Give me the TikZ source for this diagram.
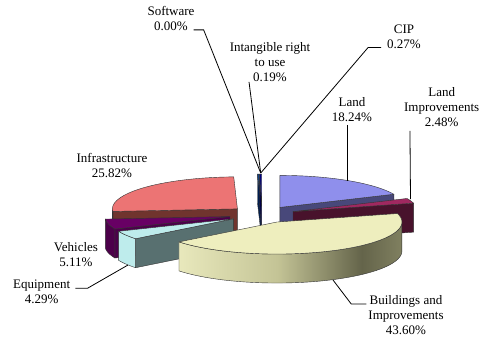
\documentclass[tikz,border=0pt]{standalone}
\usepackage{fontspec}
\setmainfont{Liberation Serif}
\definecolor{landtop}{RGB}{143,143,236}
\definecolor{landside}{RGB}{72,72,122}
\definecolor{imptop}{RGB}{160,40,96}
\definecolor{impside}{RGB}{72,18,44}
\definecolor{infratop}{RGB}{236,116,116}
\definecolor{infraside}{RGB}{112,52,46}
\definecolor{vehtop}{RGB}{104,0,100}
\definecolor{vehside}{RGB}{76,0,74}
\definecolor{eqtop}{RGB}{190,236,236}
\definecolor{eqside}{RGB}{88,112,112}
\definecolor{intgtop}{RGB}{10,70,150}
\definecolor{intgside}{RGB}{0,30,80}
\definecolor{ciptop}{RGB}{0,0,128}
\definecolor{cipside}{RGB}{0,0,70}
\definecolor{bldtop}{RGB}{238,238,190}
\definecolor{bldA}{RGB}{232,232,188}
\definecolor{bldB}{RGB}{196,196,150}
\definecolor{bldC}{RGB}{100,100,74}
\definecolor{bldD}{RGB}{128,128,96}
\pgfdeclarehorizontalshading{bldrim}{100bp}{color(0bp)=(bldA); color(25bp)=(bldA);
  color(47bp)=(bldB); color(66bp)=(bldC); color(75bp)=(bldD); color(100bp)=(bldD)}

\begin{document}
\begin{tikzpicture}[x=1pt,y=-1pt,
    facet/.style={draw=black!80,line width=0.4pt,line join=round},
    leader/.style={black,line width=0.8pt},
    lbl/.style={align=center,inner sep=0pt,font=\rmfamily\fontsize{13}{15}\selectfont}]
  \def\cx{262}    % pie centre (px, y down)
  \def\cy{214.5}
  \def\rx{125}    % ellipse half-axes
  \def\ry{32}
  \def\dep{29}    % slab thickness
  \def\exo{33}    % explosion offset, x and y
  \def\eyo{8.45}

  \path[fill=white,use as bounding box] (0,0) rectangle (484,343);

  % slices, back to front: start/end angle (clockwise from top), colours,
  % start face?, end face?, visible rim range, rim colour
  \foreach \sa/\sb/\ctop/\cside/\fs/\fe/\ra/\rb/\crim in {%
      0/65.7/landtop/landside/0/1/0/0/landside,
      358.3/359.0/intgtop/intgside/1/0/0/0/intgside,
      359.0/360/ciptop/cipside/1/0/0/0/cipside,
      265.4/358.3/infratop/infraside/1/0/265.4/270/infraside,
      65.7/74.6/imptop/impside/0/1/0/0/impside,
      247.0/265.4/vehtop/vehside/1/0/247.0/265.4/vehside,
      231.6/247.0/eqtop/eqside/1/0/231.6/247.0/eqtop}{
    \pgfmathsetmacro\mang{(\sa+\sb)/2}
    \pgfmathsetmacro\ax{\cx+\exo*sin(\mang)}
    \pgfmathsetmacro\ay{\cy-\eyo*cos(\mang)}
    % radial faces
    \ifnum\fs=1
      \path[facet,fill=\cside] (\ax,\ay) -- ({\ax+\rx*sin(\sa)},{\ay-\ry*cos(\sa)})
        -- ++(0,\dep) -- (\ax,{\ay+\dep}) -- cycle;
    \fi
    \ifnum\fe=1
      \path[facet,fill=\cside] (\ax,\ay) -- ({\ax+\rx*sin(\sb)},{\ay-\ry*cos(\sb)})
        -- ++(0,\dep) -- (\ax,{\ay+\dep}) -- cycle;
    \fi
    % outer rim
    \ifdim\ra pt<\rb pt
      \path[facet,fill=\crim] plot[domain=\ra:\rb,samples=30] ({\ax+\rx*sin(\x)},{\ay-\ry*cos(\x)})
        -- plot[domain=\rb:\ra,samples=30] ({\ax+\rx*sin(\x)},{\ay-\ry*cos(\x)+\dep}) -- cycle;
    \fi
    % top
    \path[facet,fill=\ctop] (\ax,\ay)
      -- plot[domain=\sa:\sb,samples=60] ({\ax+\rx*sin(\x)},{\ay-\ry*cos(\x)}) -- cycle;
  }

  % buildings slice (front, shaded rim)
  \pgfmathsetmacro\ax{\cx+\exo*sin(153.1)}
  \pgfmathsetmacro\ay{\cy-\eyo*cos(153.1)}
  \shade[facet,shading=bldrim] plot[domain=90:231.6,samples=60] ({\ax+\rx*sin(\x)},{\ay-\ry*cos(\x)})
    -- plot[domain=231.6:90,samples=60] ({\ax+\rx*sin(\x)},{\ay-\ry*cos(\x)+\dep}) -- cycle;
  \path[facet,fill=bldtop] (\ax,\ay)
    -- plot[domain=74.6:231.6,samples=80] ({\ax+\rx*sin(\x)},{\ay-\ry*cos(\x)}) -- cycle;

  % label anchors on the slices
  \coordinate (p-top) at (260.7,173);
  \coordinate (p-land) at (347,180.5);
  \coordinate (p-limp) at (410.5,199);
  \coordinate (p-eqp) at (128,265);
  \coordinate (p-bld) at (333,280);

  % labels
  \node[lbl] (l-soft)  at (171,18.5)  {Software\\0.00\%};
  \node[lbl] (l-intg)  at (270,62)    {Intangible right\\to use\\0.19\%};
  \node[lbl] (l-cip)   at (404,36.5)  {CIP\\0.27\%};
  \node[lbl] (l-land)  at (352,109.5) {Land\\18.24\%};
  \node[lbl] (l-limp)  at (441.7,107) {Land\\Improvements\\2.48\%};
  \node[lbl] (l-infra) at (112,165.5) {Infrastructure\\25.82\%};
  \node[lbl] (l-veh)   at (76,255)    {Vehicles\\5.11\%};
  \node[lbl] (l-eqp)   at (41.7,291.3) {Equipment\\4.29\%};
  \node[lbl] (l-bld)   at (406,315.5) {Buildings and\\Improvements\\43.60\%};

  % leader lines
  \draw[leader] ([xshift=-1pt,yshift=1pt]l-soft.south east) -- ++(10,0) -- (p-top);
  \draw[leader] ([xshift=-21pt]l-intg.south) -- (p-top);
  \draw[leader] ([xshift=-6pt,yshift=1pt]l-cip.south west) -- ++(-13,0) -- (p-top);
  \draw[leader] ([xshift=-5pt,yshift=-3pt]l-land.south) -- (p-land);
  \draw[leader] ([xshift=6pt,yshift=-4pt]l-limp.south west) -- (p-limp);
  \draw[leader] ([xshift=5pt,yshift=3pt]l-eqp.east) -- ++(12,0) -- (p-eqp);
  \draw[leader] ([xshift=-2pt,yshift=11.5pt]l-bld.west) -- ++(-15,0) -- (p-bld);
\end{tikzpicture}
\end{document}
